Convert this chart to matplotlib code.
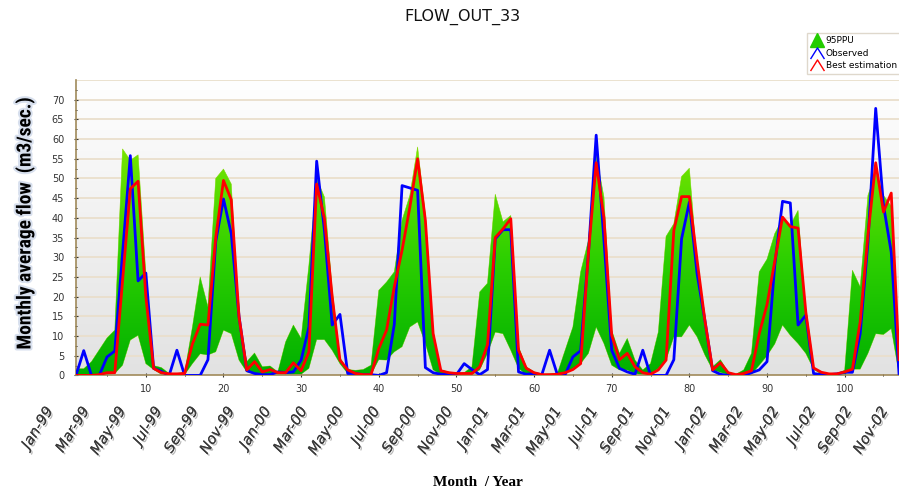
import numpy as np
import matplotlib
matplotlib.use("Agg")
import matplotlib.pyplot as plt
from matplotlib import font_manager
from matplotlib.colors import LinearSegmentedColormap
from matplotlib.lines import Line2D
from matplotlib.path import Path
import matplotlib.patheffects as pe

# monthly values, index 1..107
observed = [0, 6.3, 0, 0, 4.7, 6.2, 31, 55.8, 24, 26,
            1.8, 1, 0, 6.4, 0, 0, 0, 4, 34, 44.8,
            36, 15, 1.2, 0.5, 0.2, 0.2, 0.9, 0.7, 0.9, 3.9,
            12.3, 54.4, 36.8, 12.8, 15.5, 0.5, 0.5, 0.2, 0.2, 0,
            0.7, 13, 48.2, 47.6, 47, 2, 0.7, 0.3, 0.2, 0.2,
            3, 1.5, 0.2, 1.5, 34.7, 37, 37, 0.9, 0.3, 0.5,
            0.2, 6.4, 0.2, 0.2, 4.7, 6.3, 31, 61, 34.3, 6.4,
            1.8, 0.9, 0.3, 6.4, 0, 0, 0, 4, 34.7, 44,
            25.8, 14, 1.2, 0.3, 0, 0, 0, 0.7, 1.4, 3.5,
            28, 44.2, 43.8, 12.8, 15.3, 0.5, 0.2, 0.2, 0.4, 0.8,
            0.8, 10.6, 33.9, 67.8, 43.2, 31.3, 0.5]
best_est = [0, 0, 0, 0.2, 0.7, 0.7, 24, 47.4, 49.3, 20,
            1.8, 0.7, 0.4, 0.4, 0.5, 8, 13, 12.8, 35, 49.5,
            44.6, 14.9, 1.4, 3.5, 0.9, 1.5, 0.7, 0.7, 3.2, 1.2,
            6, 48.6, 39.8, 20, 3.9, 1.4, 0.5, 0.2, 0.2, 6.8,
            11.5, 22.5, 31.8, 42.7, 55, 39.4, 10.6, 1.2, 0.7, 0.5,
            0.5, 0.5, 2.2, 7.8, 35, 37.2, 39.8, 6.4, 1.8, 0.7,
            0.2, 0.2, 0.3, 0.7, 1.5, 3, 31, 54, 40, 10.2,
            4, 5.6, 2.2, 0.7, 0.3, 1.4, 3.9, 36.8, 45.4, 45.4,
            29.2, 14, 1.4, 3.2, 0.7, 0.2, 0.5, 1.2, 10.6, 18,
            29, 40.2, 37.8, 37.4, 16.1, 1.9, 0.8, 0.4, 0.4, 0.9,
            1.6, 13.6, 35.6, 54, 41.5, 46.3, 4]
ppu_upper = [1.7, 1.7, 3.5, 6.5, 9.5, 11.5, 57.5, 54.6, 56, 26,
             2.5, 2, 0.5, 0.5, 0.8, 12.3, 25, 17.4, 50, 52.4,
             48.6, 15, 3.5, 5.7, 2.2, 2.4, 0.9, 8.5, 12.8, 9.4,
             28, 50, 45.3, 22, 4.5, 1.5, 1.3, 1.5, 2.6, 21.6,
             23.7, 26.3, 39.4, 45.7, 58, 41, 11.5, 1.4, 0.9, 0.5,
             0.7, 2.2, 21.2, 23.4, 46, 39, 40.6, 7.3, 2.2, 0.9,
             0.3, 0.4, 0.5, 6.4, 12.3, 26.3, 34.3, 56, 45.3, 11.5,
             5.6, 9.4, 3.9, 1.4, 3, 11, 35.3, 38.5, 50.5, 52.6,
             28.4, 12.3, 2.2, 4, 0.9, 0.3, 1.4, 5.6, 26.3, 29.5,
             36, 39.8, 38.1, 41.9, 15.3, 1.8, 0.8, 0.4, 0.5, 1.3,
             26.7, 22.5, 45.7, 51.5, 45.7, 43, 5]
ppu_lower = [0, 0, 0, 0, 0.2, 0.5, 2.6, 9, 10.2, 3,
             1.5, 0.3, 0.2, 0.2, 0.2, 3, 5.5, 5.2, 6, 11.5,
             10.6, 3.9, 0.9, 0.5, 0.3, 0.3, 0.3, 0.3, 0.3, 0.3,
             1.8, 9.1, 9.1, 6.4, 3, 0.5, 0.3, 0.2, 0.2, 4,
             3.9, 6, 7.3, 12.3, 13.6, 8.1, 1.4, 0.3, 0.2, 0.2,
             0.2, 0.2, 1.4, 5.6, 11, 10.6, 6.4, 1.8, 0.2, 0.2,
             0.1, 0.1, 0.1, 0.5, 1.8, 3, 5.6, 12.3, 8.1, 2.6,
             1.4, 1.4, 0.5, 0.2, 0.3, 1.8, 3.9, 9.8, 9.8, 12.8,
             9.8, 5.2, 1.4, 0.8, 0.2, 0.1, 0.2, 0.3, 2.6, 5,
             8, 12.8, 10.2, 8.1, 5.6, 1.6, 0.3, 0.2, 0.2, 0.3,
             1.6, 1.6, 5.6, 10.6, 10.4, 11.9, 0.5]
months = np.arange(1, len(observed) + 1)

month_labels = ["Jan-99", "Mar-99", "May-99", "Jul-99", "Sep-99", "Nov-99",
                "Jan-00", "Mar-00", "May-00", "Jul-00", "Sep-00", "Nov-00",
                "Jan-01", "Mar-01", "May-01", "Jul-01", "Sep-01", "Nov-01",
                "Jan-02", "Mar-02", "May-02", "Jul-02", "Sep-02", "Nov-02"]


def has_font(name):
    try:
        font_manager.findfont(font_manager.FontProperties(family=name),
                              fallback_to_default=False)
        return True
    except ValueError:
        return False


# narrow bold face for the y label if one is installed
narrow = None
for cand in ["Liberation Sans Narrow", "Roboto Condensed", "Open Sans Condensed"]:
    if has_font(cand):
        narrow = cand
        break

fig = plt.figure(figsize=(8.99, 4.94), dpi=100)
ax = fig.add_axes([0.0845, 0.24, 0.9155, 0.598])

# plot background gradient
bg = LinearSegmentedColormap.from_list("bg", ["#e2e2e2", "#ffffff"])
ax.imshow(np.linspace(0, 1, 256).reshape(-1, 1), cmap=bg, origin="lower",
          extent=[0, 1, 0, 1], transform=ax.transAxes, aspect="auto", zorder=0)

for g in range(5, 80, 5):
    ax.axhline(g, color="#eadfcc", lw=1.3, zorder=1)

# 95PPU band with green gradient
band = ax.fill_between(months, ppu_lower, ppu_upper, facecolor="none",
                       edgecolor="#8fd400", lw=0.4, zorder=2)
gr = LinearSegmentedColormap.from_list("gr", ["#00b000", "#2ccf00", "#78e600"])
img = ax.imshow(np.linspace(0, 1, 256).reshape(-1, 1), cmap=gr, origin="lower",
                extent=[1, 107, 0, 58], aspect="auto", zorder=2)
img.set_clip_path(band.get_paths()[0], transform=ax.transData)

ax.plot(months, observed, color="#0000ff", lw=2, zorder=3)
ax.plot(months, best_est, color="#ff0000", lw=2, zorder=4)

ax.set_xlim(1, 107)
ax.set_ylim(0, 75)
ax.set_xticks(range(10, 101, 10))
ax.set_xticks(range(5, 107, 5), minor=True)
ax.set_yticks(range(0, 71, 5))
ax.set_yticks(np.arange(0, 75, 2.5), minor=True)
ax.tick_params(labelsize=7, colors="#333333", length=3, direction="inout")
ax.tick_params(which="minor", length=2, direction="inout")
ax.tick_params(axis="x", pad=5)
ax.tick_params(axis="y", pad=7)
for s in ["top", "right"]:
    ax.spines[s].set_visible(False)
for s in ["left", "bottom"]:
    ax.spines[s].set_color("#a08a5a")
    ax.spines[s].set_linewidth(1.2)

fig.text(0.514, 0.965, "FLOW_OUT_33", ha="center", va="center", fontsize=11.5,
         color="#111111")

if narrow:
    ylab_kw = dict(family=[narrow, "DejaVu Sans"], fontsize=14)
else:
    ylab_kw = dict(family=["Liberation Sans", "DejaVu Sans"], fontsize=11.5)
fig.text(0.028, 0.549, "Monthly average flow  (m3/sec.)", rotation=90,
         ha="center", va="center", fontweight="bold", color="black",
         path_effects=[pe.withStroke(linewidth=3, foreground="#d8e0ee")],
         **ylab_kw)

fig.text(0.532, 0.024, "Month  / Year", ha="center", va="center", fontsize=11,
         fontweight="bold", family=["Liberation Serif", "DejaVu Serif"])

# month / year labels below the axis
for i, lab in enumerate(month_labels):
    xpos = (56 + i * 36.3) / 899
    fig.text(xpos, 1 - 404 / 494, lab, rotation=58, ha="right", va="top",
             fontsize=10.5, style="italic", color="#3a3a3a",
             family=["DejaVu Sans"],
             path_effects=[pe.withSimplePatchShadow(offset=(1.2, -1.2),
                                                    shadow_rgbFace="#888888",
                                                    alpha=0.6), pe.Normal()])

chev = Path([(-1, -0.8), (0, 0.8), (1, -0.8)],
            [Path.MOVETO, Path.LINETO, Path.LINETO])
handles = [Line2D([], [], ls="none", marker="^", markersize=10,
                  markerfacecolor="#22cc00", markeredgecolor="#22cc00"),
           Line2D([], [], ls="none", marker=chev, markersize=10,
                  markerfacecolor="none", markeredgecolor="#0000ff", markeredgewidth=1),
           Line2D([], [], ls="none", marker=chev, markersize=10,
                  markerfacecolor="none", markeredgecolor="#ff0000", markeredgewidth=1)]
leg = fig.legend(handles, ["95PPU", "Observed", "Best estimation"],
                 loc="upper left", bbox_to_anchor=(0.898, 0.933),
                 fontsize=6.5, frameon=True, fancybox=False, edgecolor="#d8cfc0",
                 handletextpad=0.3, borderpad=0.35, labelspacing=0.4,
                 handlelength=1.4, borderaxespad=0)
leg.get_frame().set_linewidth(1)

fig.savefig("out.png", dpi=100)
